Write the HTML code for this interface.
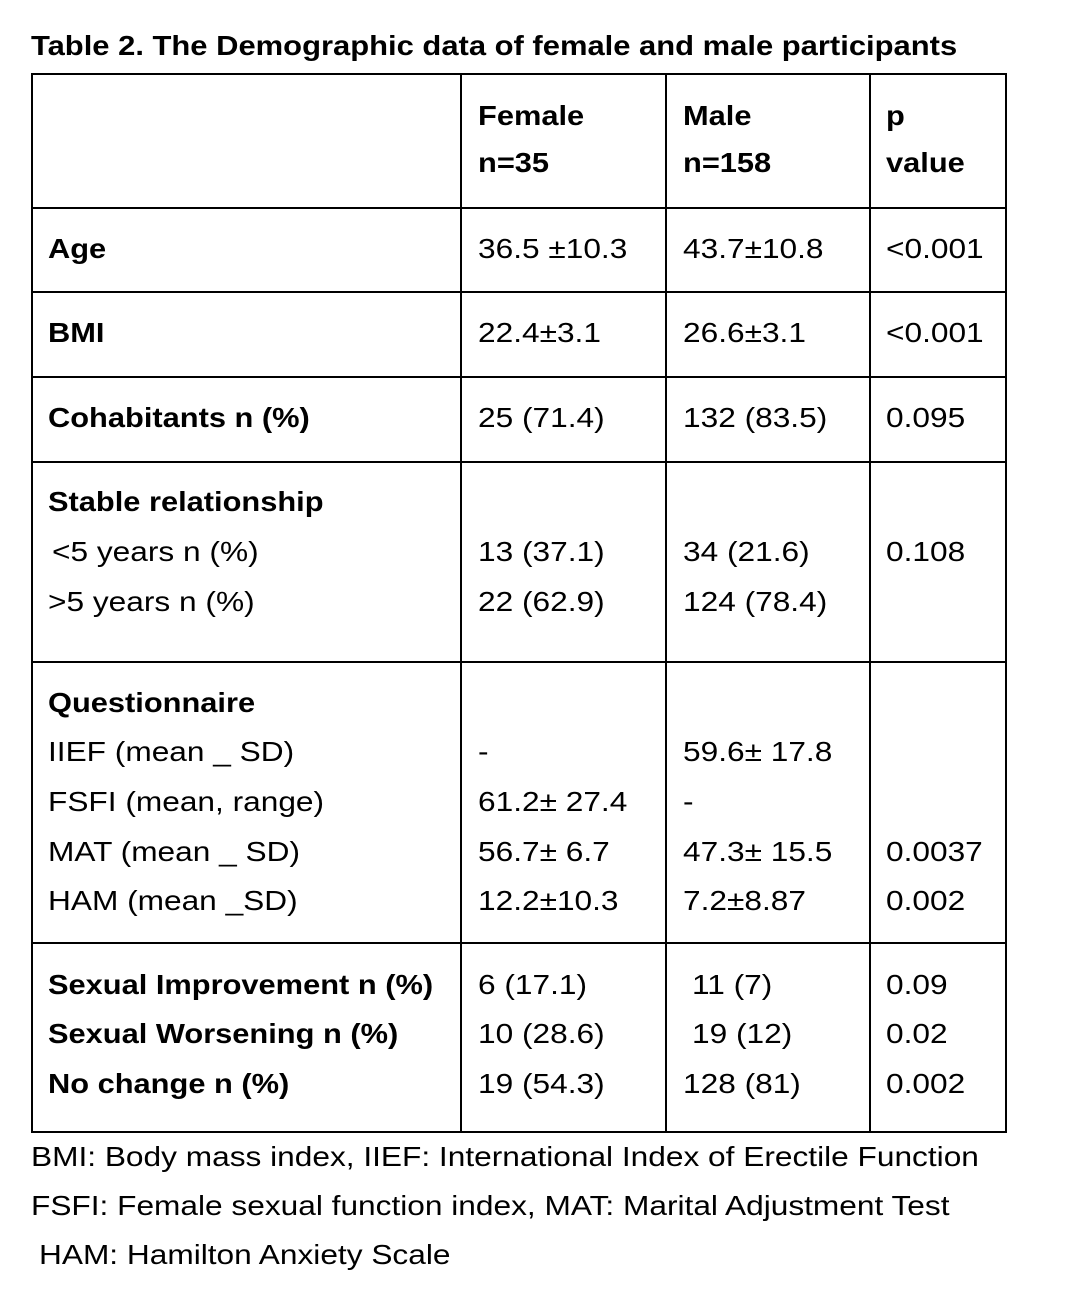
<!DOCTYPE html>
<html><head><meta charset="utf-8"><style>
body{margin:0;background:#fff;width:1080px;height:1303px;position:relative;overflow:hidden;font-family:"Liberation Sans",sans-serif;color:#000}
.t{position:absolute;font-size:28px;line-height:30px;white-space:nowrap;transform-origin:left center;transform:scaleX(1.13)}
.b{font-weight:bold;transform:scaleX(1.10)}
.h{position:absolute;background:#000;height:2px;left:31px;width:976px}
.v{position:absolute;background:#000;width:2px;top:73px;height:1060px}
</style></head><body>
<div class="t b" style="left:31px;top:31px;transform:scaleX(1.105)">Table 2. The Demographic data of female and male participants</div>
<div>
<div class="h" style="top:73px"></div><div class="h" style="top:207px"></div><div class="h" style="top:291px"></div><div class="h" style="top:376px"></div><div class="h" style="top:461px"></div><div class="h" style="top:661px"></div><div class="h" style="top:942px"></div><div class="h" style="top:1131px"></div>
<div class="v" style="left:31px"></div><div class="v" style="left:460px"></div><div class="v" style="left:665px"></div><div class="v" style="left:869px"></div><div class="v" style="left:1005px"></div>
</div>
<div class="t b" style="left:478px;top:101px">Female</div>
<div class="t b" style="left:478px;top:148px">n=35</div>
<div class="t b" style="left:683px;top:101px">Male</div>
<div class="t b" style="left:683px;top:148px">n=158</div>
<div class="t b" style="left:886px;top:101px">p</div>
<div class="t b" style="left:886px;top:148px">value</div>

<div class="t b" style="left:48px;top:234px">Age</div>
<div class="t" style="left:478px;top:234px">36.5 ±10.3</div><div class="t" style="left:683px;top:234px">43.7±10.8</div><div class="t" style="left:886px;top:234px">&lt;0.001</div>
<div class="t b" style="left:48px;top:318px">BMI</div>
<div class="t" style="left:478px;top:318px">22.4±3.1</div><div class="t" style="left:683px;top:318px">26.6±3.1</div><div class="t" style="left:886px;top:318px">&lt;0.001</div>
<div class="t b" style="left:48px;top:403px">Cohabitants n (%)</div>
<div class="t" style="left:478px;top:403px">25 (71.4)</div><div class="t" style="left:683px;top:403px">132 (83.5)</div><div class="t" style="left:886px;top:403px">0.095</div>

<div class="t b" style="left:48px;top:487px">Stable relationship</div>
<div class="t" style="left:52px;top:537px">&lt;5 years n (%)</div><div class="t" style="left:478px;top:537px">13 (37.1)</div><div class="t" style="left:683px;top:537px">34 (21.6)</div><div class="t" style="left:886px;top:537px">0.108</div>
<div class="t" style="left:48px;top:587px">&gt;5 years n (%)</div><div class="t" style="left:478px;top:587px">22 (62.9)</div><div class="t" style="left:683px;top:587px">124 (78.4)</div>

<div class="t b" style="left:48px;top:688px">Questionnaire</div>
<div class="t" style="left:48px;top:737px">IIEF (mean _ SD)</div><div class="t" style="left:478px;top:737px">-</div><div class="t" style="left:683px;top:737px">59.6± 17.8</div>
<div class="t" style="left:48px;top:787px">FSFI (mean, range)</div><div class="t" style="left:478px;top:787px">61.2± 27.4</div><div class="t" style="left:683px;top:787px">-</div>
<div class="t" style="left:48px;top:837px">MAT (mean _ SD)</div><div class="t" style="left:478px;top:837px">56.7± 6.7</div><div class="t" style="left:683px;top:837px">47.3± 15.5</div><div class="t" style="left:886px;top:837px">0.0037</div>
<div class="t" style="left:48px;top:886px">HAM (mean _SD)</div><div class="t" style="left:478px;top:886px">12.2±10.3</div><div class="t" style="left:683px;top:886px">7.2±8.87</div><div class="t" style="left:886px;top:886px">0.002</div>

<div class="t b" style="left:48px;top:970px">Sexual Improvement n (%)</div>
<div class="t" style="left:478px;top:970px">6 (17.1)</div><div class="t" style="left:692px;top:970px">11 (7)</div><div class="t" style="left:886px;top:970px">0.09</div>
<div class="t b" style="left:48px;top:1019px">Sexual Worsening n (%)</div>
<div class="t" style="left:478px;top:1019px">10 (28.6)</div><div class="t" style="left:692px;top:1019px">19 (12)</div><div class="t" style="left:886px;top:1019px">0.02</div>
<div class="t b" style="left:48px;top:1069px">No change n (%)</div>
<div class="t" style="left:478px;top:1069px">19 (54.3)</div><div class="t" style="left:683px;top:1069px">128 (81)</div><div class="t" style="left:886px;top:1069px">0.002</div>

<div class="t" style="left:31px;top:1142px">BMI: Body mass index, IIEF: International Index of Erectile Function</div>
<div class="t" style="left:31px;top:1191px">FSFI: Female sexual function index, MAT: Marital Adjustment Test</div>
<div class="t" style="left:39px;top:1240px">HAM: Hamilton Anxiety Scale</div>
</body></html>
